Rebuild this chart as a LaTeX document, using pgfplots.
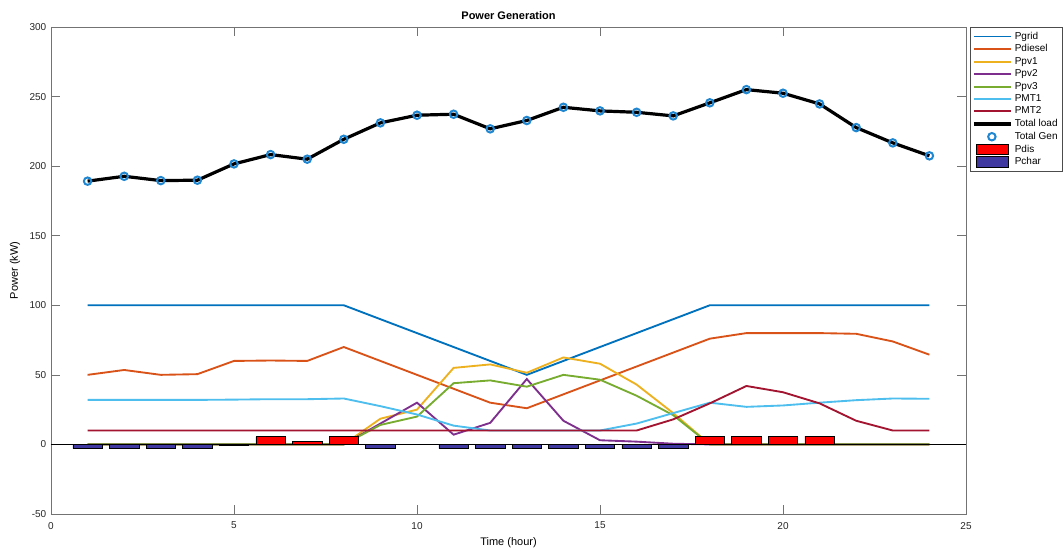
\documentclass[border=0pt]{standalone}
\usepackage{fontspec}
\setmainfont{Liberation Sans}
\usepackage{pgfplots}
\pgfplotsset{compat=1.18}
\definecolor{cgrid}{rgb}{0,0.447,0.741}
\definecolor{cdiesel}{rgb}{0.851,0.325,0.098}
\definecolor{cpv1}{rgb}{0.929,0.694,0.125}
\definecolor{cpv2}{rgb}{0.494,0.184,0.557}
\definecolor{cpv3}{rgb}{0.466,0.674,0.188}
\definecolor{cmt1}{rgb}{0.301,0.745,0.933}
\definecolor{cmt2}{rgb}{0.635,0.078,0.184}
\definecolor{cgen}{rgb}{0.12,0.53,0.82}
\definecolor{cchar}{rgb}{0.25,0.22,0.63}
\definecolor{caxis}{rgb}{0.45,0.45,0.45}

\pgfplotstableread{
x   grid diesel pv1  pv2  pv3  mt1  mt2  load
1   100  50     0    0    0    32   10   189.2
2   100  53.5   0    0    0    32   10   192.7
3   100  50     0    0    0    32   10   189.6
4   100  50.5   0    0    0    32   10   189.9
5   100  60     0    0    0    32.2 10   201.6
6   100  60.3   0    0    0    32.5 10   208.3
7   100  60     0    0    0    32.5 10   205.0
8   100  70     0    0    0    33   10   219.3
9   90   60     18.5 15   14   27.5 10   231.1
10  80   50     25   30   20   21.5 10   236.6
11  70   40     55   7    44   13.5 10   237.3
12  60   30     57.5 15.5 46   10   10   226.8
13  50   26     51.5 47   41.5 10   10   232.8
14  60   36     62.5 17   50   10   10   242.3
15  70   46     58   3    46.5 10   10   239.7
16  80   56     43   2    35   15   10   238.7
17  90   66     22.5 0.5  21   22.5 18   236.1
18  100  76     0    0    0    30   29.5 245.5
19  100  80     0    0    0    27   42   255.0
20  100  80     0    0    0    28   37.5 252.4
21  100  80     0    0    0    30   29.5 244.7
22  100  79.5   0    0    0    31.8 17   227.7
23  100  74     0    0    0    33   10   216.7
24  100  64.5   0    0    0    32.8 10   207.4
}\datatable

\pgfplotstableread{
x  dis
6  5.5
7  2
8  6
18 6
19 6
20 6
21 6
}\distable

\pgfplotstableread{
x  ch
1  -3
2  -3
3  -3
4  -3
5  -1
9  -3
11 -3
12 -3
13 -3
14 -3
15 -3
16 -3
17 -3
}\chtable

\pgfplotsset{
  linleg/.style={legend image code/.code={\draw[mark repeat=2,mark phase=2,##1] plot coordinates {(0pt,0pt) (13.5pt,0pt) (27.5pt,0pt)};}},
  barleg/.style={legend image code/.code={\draw[##1] (2pt,-4pt) rectangle (25.5pt,4pt);}},
}

\begin{document}
\begin{tikzpicture}
\begin{axis}[
  scale only axis,
  width=686.25pt, height=365.25pt,
  xmin=0, xmax=25, ymin=-50, ymax=300,
  xtick={0,5,...,25}, ytick={-50,0,...,300},
  major tick length=6.75pt,
  tick align=inside,
  axis line style={caxis},
  every tick/.style={caxis},
  tick label style={font=\fontsize{7.5}{9}\selectfont, text=black!85},
  xticklabel style={yshift=-2.5pt},
  /pgf/number format/assume math mode=true,
  every axis title shift=0pt,
  title={\textbf{Power Generation}},
  title style={font=\fontsize{8.25}{10}\selectfont, at={(axis description cs:0.5,1.0144)}, anchor=base},
  xlabel={Time (hour)},
  xlabel style={font=\fontsize{8.25}{10}\selectfont, at={(axis description cs:0.5,-0.0657)}, anchor=base},
  ylabel={Power (kW)},
  ylabel style={font=\fontsize{8.25}{10}\selectfont, at={(axis description cs:-0.0393,0.5)}, anchor=center},
  legend style={at={(axis description cs:1.0044,1)}, anchor=north west,
    font=\fontsize{7.5}{8}\selectfont, draw=black!70, inner sep=1.5pt,
    row sep=-1.4pt, cells={anchor=west}},
  legend cell align=left,
  linleg,
]
\addplot[cgrid, line width=1.4pt] table[x=x,y=grid] {\datatable};
\addlegendentry{Pgrid}
\addplot[cdiesel, line width=1.4pt] table[x=x,y=diesel] {\datatable};
\addlegendentry{Pdiesel}
\addplot[cpv1, line width=1.4pt] table[x=x,y=pv1] {\datatable};
\addlegendentry{Ppv1}
\addplot[cpv2, line width=1.4pt] table[x=x,y=pv2] {\datatable};
\addlegendentry{Ppv2}
\addplot[cpv3, line width=1.4pt] table[x=x,y=pv3] {\datatable};
\addlegendentry{Ppv3}
\addplot[cmt1, line width=1.4pt] table[x=x,y=mt1] {\datatable};
\addlegendentry{PMT1}
\addplot[cmt2, line width=1.4pt] table[x=x,y=mt2] {\datatable};
\addlegendentry{PMT2}
\addplot[black, line width=2.4pt] table[x=x,y=load] {\datatable};
\addlegendentry{Total load}
\addplot[only marks, mark=o, mark size=2.8pt, cgen, line width=1.5pt] table[x=x,y=load] {\datatable};
\addlegendentry{Total Gen}
\addplot[black, line width=0.5pt, forget plot] coordinates {(0,0) (25,0)};
\addplot[ybar, bar width=0.8, bar shift=0pt, fill=red, draw=black, line width=0.5pt, barleg] table[x=x,y=dis] {\distable};
\addlegendentry{Pdis}
\addplot[ybar, bar width=0.8, bar shift=0pt, fill=cchar, draw=black, line width=0.5pt, barleg] table[x=x,y=ch] {\chtable};
\addlegendentry{Pchar}
\end{axis}
\pgfresetboundingbox
\path[use as bounding box] (current axis.south west) ++(-38.25pt,-27.75pt) rectangle ([shift={(73.5pt,20.25pt)}]current axis.north east);
\end{tikzpicture}
\end{document}
